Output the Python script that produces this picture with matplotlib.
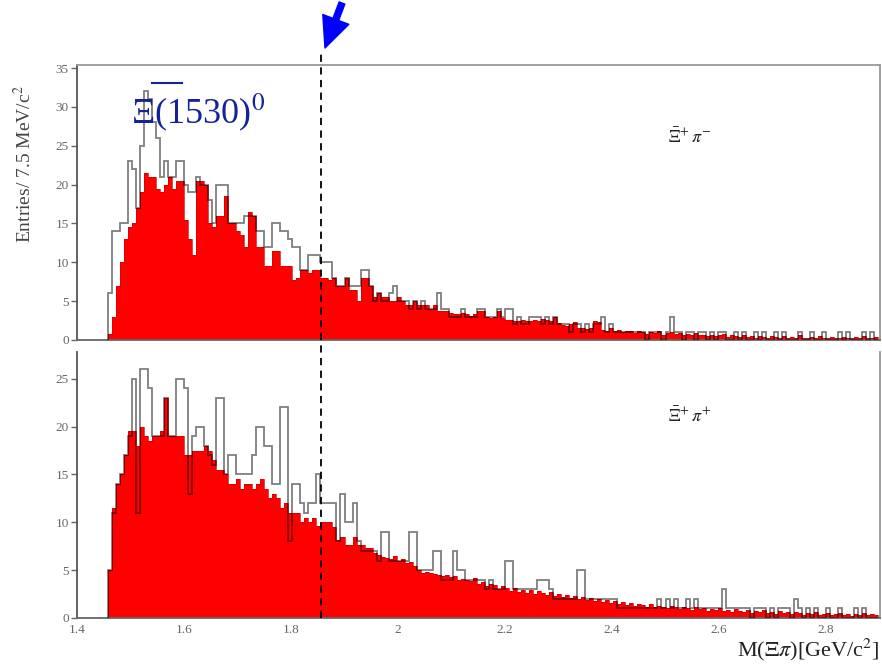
import numpy as np
import matplotlib
matplotlib.use('Agg')
import matplotlib.pyplot as plt
from matplotlib.lines import Line2D
from matplotlib.transforms import blended_transform_factory

plt.rcParams['font.family'] = ['Liberation Serif', 'DejaVu Serif']
plt.rcParams['mathtext.fontset'] = 'stix'

# binning: 7.5 MeV bins starting just below Xi-pi threshold
X0 = 1.4575
BIN_W = 0.0075
DASH_X = 1.857   # marked mass

# top panel: Xi+ pi-  (red = background estimate, outline = data)
top_red = [
    0.8, 3, 7, 10, 13, 14.5, 15, 17, 19, 21.5,
    21, 21, 19.5, 19, 20, 21, 19.5, 20.5, 20.5, 15.5,
    13, 11, 20.5, 20.5, 20, 15, 14.5, 16, 16, 18.5,
    15, 15, 14, 13.5, 12, 16.5, 16, 12, 12, 9.5,
    9.5, 11.5, 11.5, 9.5, 9.5, 9.5, 7.7, 8, 9, 9,
    8.6, 9, 9, 8, 8, 7.7, 8, 7, 7, 8,
    6.5, 6.5, 5, 8, 8, 7, 5.5, 6, 5.5, 5.5,
    5, 5, 5.5, 5, 4.5, 4.5, 5, 4.5, 4.5, 4.5,
    4, 4.5, 3.7, 3.7, 3.7, 3.5, 3.3, 3.3, 3.5, 3.3,
    3.1, 3.3, 3.7, 3.7, 3, 2.8, 3, 3.7, 2.8, 2.6,
    2.6, 2.5, 2.4, 2.6, 2.5, 2.4, 2.6, 2.5, 2.7, 2.6,
    2.4, 3, 2.2, 1.9, 1.8, 2.0, 2.3, 1.5, 1.6, 1.4,
    1.5, 2.4, 2.3, 1.3, 1.2, 1.5, 1.1, 1.3, 1.0, 1.2,
    1.2, 0.9, 1.1, 1.0, 0.8, 1.0, 0.9, 1.1, 0.7, 0.9,
    1.0, 0.8, 0.9, 0.6, 0.8, 0.7, 0.9, 0.6, 0.7, 0.5,
    0.7, 0.5, 0.6, 0.8, 0.4, 0.6, 0.5, 0.4, 0.6, 0.4,
    0.5, 0.3, 0.5, 0.4, 0.3, 0.5, 0.4, 0.3, 0.5, 0.3,
    0.4, 0.3, 0.6, 0.3, 0.2, 0.4, 0.3, 0.5, 0.3, 0.2,
    0.4, 0.3, 0.2, 0.4, 0.3, 0.2, 0.4, 0.3, 0.5, 0.2,
    0.3, 0.4]
top_data = [
    6, 14, 14, 15, 15, 23, 22, 17, 25, 32,
    31, 28, 26, 21, 23, 21, 21, 23, 23, 20,
    19, 19, 21, 20, 20, 18, 15, 20, 20, 20,
    15, 15, 15, 15, 16, 16, 16, 14, 14, 12,
    12, 15, 15, 14, 14, 13, 12, 12, 9, 9,
    11, 11, 11, 10, 10, 10, 8, 7, 7, 8,
    7, 7, 7, 9, 9, 7, 5, 6, 5, 5,
    6, 7, 5, 5, 5, 4, 5, 4, 5, 4,
    4, 4, 6, 4, 4, 3, 3, 3, 4, 3,
    3, 3, 4, 4, 3, 3, 3, 4, 3, 4,
    4, 2, 3, 2, 2, 3, 3, 3, 2, 3,
    2, 3, 2, 2, 2, 1, 2, 2, 1, 2,
    1, 2, 2, 3, 1, 2, 1, 1, 1, 1,
    1, 1, 1, 1, 0, 1, 1, 1, 0, 1,
    3, 1, 1, 0, 1, 1, 0, 1, 1, 0,
    1, 0, 1, 1, 0, 0, 1, 0, 1, 0,
    0, 1, 0, 1, 0, 0, 1, 0, 1, 0,
    0, 0, 1, 0, 0, 1, 0, 0, 1, 0,
    0, 0, 1, 0, 1, 0, 0, 0, 1, 0,
    1, 0]

# bottom panel: Xi+ pi+
bot_red = [
    5, 11.5, 14, 15, 17, 19.5, 19.5, 18, 20, 19,
    18.5, 19, 19, 19.5, 23, 19, 19, 19, 19, 17,
    17, 17.5, 17.5, 17.5, 18, 17.5, 16.5, 15.5, 15.5, 15,
    14, 14, 14.5, 13.5, 14, 14, 13.5, 14, 14.5, 13.5,
    12.5, 13, 12.5, 11.5, 12, 11, 11, 11, 10, 10.5,
    10, 10.5, 9.6, 10, 10, 10, 9.5, 8.2, 8.5, 7.6,
    7.6, 8.5, 7.6, 7.6, 7.3, 7.3, 6.8, 6.6, 6.4, 6.3,
    6.2, 6.5, 6.0, 6.2, 5.8, 5.9, 5.4, 5.0, 4.7, 4.8,
    4.7, 4.6, 4.5, 4.4, 4.5, 4.3, 4.4, 4.0, 4.1, 4.0,
    3.9, 4.2, 3.6, 3.8, 3.3, 3.6, 3.4, 3.0, 3.3, 3.1,
    2.8, 3.1, 2.7, 2.9, 2.6, 2.9, 2.5, 2.8, 2.6, 2.4,
    2.7, 2.3, 2.5, 2.2, 2.4, 2.1, 2.3, 2.0, 2.2, 1.9,
    2.1, 1.8, 2.0, 1.7, 1.9, 1.6, 1.8, 1.5, 1.7, 1.4,
    1.6, 1.3, 1.5, 1.4, 1.2, 1.5, 1.1, 1.3, 1.2, 1.0,
    1.3, 1.1, 0.9, 1.2, 1.0, 0.8, 1.1, 0.9, 1.0, 0.7,
    0.9, 0.8, 1.0, 0.7, 0.8, 0.6, 0.9, 0.7, 0.6, 0.8,
    0.5, 0.7, 0.6, 0.8, 0.5, 0.6, 0.4, 0.7, 0.5, 0.6,
    0.4, 0.6, 0.5, 0.3, 0.5, 0.4, 0.6, 0.3, 0.4, 0.5,
    0.3, 0.4, 0.5, 0.3, 0.4, 0.2, 0.4, 0.3, 0.5, 0.3,
    0.4, 0.3]
bot_data = [
    5, 11, 14, 15, 17, 19, 25, 11, 26, 26,
    24, 19, 19, 19, 23, 19, 19, 25, 25, 24,
    13, 19, 20, 20, 18, 17, 16, 23, 23, 15,
    17, 17, 15, 15, 15, 15, 17, 20, 20, 18,
    18, 14, 14, 22, 22, 8, 14, 14, 12, 11,
    12, 12, 15, 12, 12, 12, 12, 8, 13, 10,
    10, 12, 8, 7, 7, 7, 7, 6, 9, 9,
    6, 6, 6, 6, 6, 9, 9, 5, 5, 5,
    5, 7, 7, 4, 4, 4, 7, 5, 5, 4,
    4, 4, 4, 4, 3, 4, 3, 3, 3, 6,
    6, 3, 3, 3, 3, 3, 3, 4, 4, 4,
    3, 2, 2, 2, 2, 2, 2, 5, 5, 2,
    2, 2, 2, 2, 2, 2, 2, 1, 1, 1,
    1, 1, 1, 1, 1, 1, 1, 2, 1, 2,
    1, 2, 1, 1, 2, 1, 2, 1, 1, 1,
    1, 1, 1, 3, 1, 1, 1, 1, 1, 1,
    0, 1, 1, 1, 0, 1, 0, 1, 1, 1,
    0, 2, 1, 0, 1, 0, 1, 0, 0, 1,
    0, 0, 1, 0, 0, 0, 1, 0, 1, 0,
    0, 0]

x_ticks = [1.4, 1.6, 1.8, 2.0, 2.2, 2.4, 2.6, 2.8]
x_ticklabels = ['1.4', '1.6', '1.8', '2', '2.2', '2.4', '2.6', '2.8']


def draw(ax, red, data, ymax, yticks):
    e_red = X0 + BIN_W * np.arange(len(red) + 1)
    e_dat = X0 + BIN_W * np.arange(len(data) + 1)
    ax.stairs(red, e_red, fill=True, color='#ff0000', zorder=2)
    ax.stairs(red, e_red, color='#d00000', lw=0.5, zorder=2.5)
    ax.stairs(data, e_dat, color='black', alpha=0.5, lw=1.3, zorder=3)
    ax.set_xlim(1.4, 2.9)
    ax.set_ylim(0, ymax)
    ax.set_yticks(yticks)
    ax.set_xticks(x_ticks)
    ax.tick_params(axis='y', direction='out', length=4, width=1,
                   colors='#666', labelsize=9.5, pad=2)
    ax.tick_params(axis='x', length=0, colors='#666', labelsize=9.5, pad=4)
    for s in ax.spines.values():
        s.set_color('#999')
        s.set_linewidth(1.3)
    ax.spines['left'].set_color('#555')
    ax.spines['bottom'].set_color('#666')


fig = plt.figure(figsize=(8.82, 6.65), dpi=100)
ax1 = fig.add_axes([77 / 882, 1 - 340 / 665, 802.5 / 882, 275 / 665])
ax2 = fig.add_axes([77 / 882, 1 - 618 / 665, 802.5 / 882, 266 / 665])

draw(ax1, top_red, top_data, 35.4, range(0, 36, 5))
draw(ax2, bot_red, bot_data, 27.8, range(0, 26, 5))
ax1.set_xticklabels([])
ax2.set_xticklabels(x_ticklabels)
ax2.spines['top'].set_visible(False)

ax1.set_ylabel('Entries/ 7.5 MeV/c$^2$', fontsize=14, color='#444')
ax1.yaxis.set_label_coords(-0.052, 0.64)

ax1.text(0.764, 0.738, r'$\bar{\Xi}^{+}\,\pi^{-}$', transform=ax1.transAxes,
         fontsize=13, color='#222', ha='center', va='center')
ax2.text(0.764, 0.759, r'$\bar{\Xi}^{+}\,\pi^{+}$', transform=ax2.transAxes,
         fontsize=13, color='#222', ha='center', va='center')

# resonance label with a separate bar over the Xi
fig.text(131 / 882, 1 - 112 / 665, 'Ξ(1530)$^{0}$', fontsize=26,
         color='#14239a', ha='left', va='center')
fig.add_artist(Line2D([152 / 882, 182 / 882], [1 - 83 / 665, 1 - 83 / 665],
                      transform=fig.transFigure, color='#14239a', lw=1.5))
fig.text(0.997, 1 - 663 / 665, r'M($\Xi\pi$)[GeV/c$^2$]', fontsize=16,
         color='#222', ha='right', va='bottom')

# dashed marker line across both panels
trans = blended_transform_factory(ax2.transData, fig.transFigure)
fig.add_artist(Line2D([DASH_X, DASH_X], [1 - 618 / 665, 1 - 52 / 665],
                      transform=trans, color='black', ls=(0, (4, 3)), lw=1.3))

# blue arrow pointing at the line
ax1.annotate('', xy=(325 / 882, 1 - 48 / 665), xycoords='figure fraction',
             xytext=(342 / 882, 1 - 3 / 665), textcoords='figure fraction',
             arrowprops=dict(arrowstyle='simple,head_length=1.1,head_width=1.0,tail_width=0.22',
                             color='blue', shrinkA=0, shrinkB=0, mutation_scale=20),
             annotation_clip=False)

fig.savefig('out.png', dpi=100)
